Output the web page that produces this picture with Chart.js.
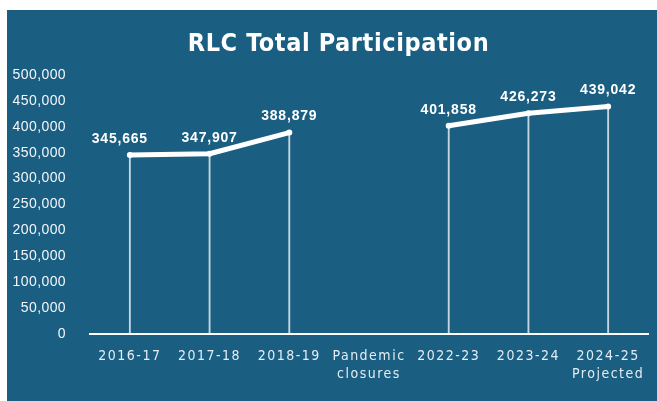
<!DOCTYPE html>
<html lang="en">
<head>
    <meta charset="UTF-8">
    <title>RLC Total Participation</title>
    <script src="https://cdn.jsdelivr.net/npm/chart.js"></script>
    <style>
        body {
            margin: 0; padding: 0;
            background: #ffffff;
            width: 657px; height: 401px;
            overflow: hidden;
        }
        .panel {
            position: absolute;
            left: 7px; top: 10px;
            width: 650px; height: 391px;
            background: #1a5e82;
        }
    </style>
</head>
<body>
<div class="panel"><canvas id="chart-rlc"></canvas></div>

<script>
    const years = ['2016-17', '2017-18', '2018-19', ['Pandemic', 'closures'], '2022-23', '2023-24', ['2024-25', 'Projected']];
    const participation = [345665, 347907, 388879, null, 401858, 426273, 439042];
    const yTicks = [0, 50000, 100000, 150000, 200000, 250000, 300000, 350000, 400000, 450000, 500000];

    const white = '#ffffff';
    const condensed = "'DejaVu Sans Condensed', 'DejaVu Sans', sans-serif";
    const sans = "'Liberation Sans', Arial, sans-serif";

    // wrap a draw method so its text gets some letter spacing
    function spaced(ctx, obj, method, amount) {
        if (!obj || obj['_spaced_' + method]) return;
        const orig = obj[method].bind(obj);
        obj[method] = (...args) => {
            ctx.letterSpacing = amount;
            orig(...args);
            ctx.letterSpacing = '0px';
        };
        obj['_spaced_' + method] = true;
    }

    const spacing = {
        id: 'spacing',
        afterLayout(chart) {
            const ctx = chart.ctx;
            spaced(ctx, chart.scales.x, 'drawLabels', '1.5px');
            spaced(ctx, chart.scales.y, 'drawLabels', '0.4px');
            spaced(ctx, chart.titleBlock, 'draw', '0.6px');
            // nudge the title a little right of the canvas centre
            const t = chart.titleBlock;
            if (t) { t.left += 11; t.right += 11; }
        }
    };

    // value labels above each point
    const valueLabels = {
        id: 'valueLabels',
        afterDatasetsDraw(chart) {
            const ctx = chart.ctx;
            const meta = chart.getDatasetMeta(1);
            ctx.save();
            ctx.letterSpacing = '0.8px';
            ctx.font = 'bold 14px ' + sans;
            ctx.fillStyle = white;
            ctx.textAlign = 'center';
            ctx.textBaseline = 'bottom';
            participation.forEach((v, i) => {
                if (v === null) return;
                const pt = meta.data[i];
                // first label sits a bit left of its point
                const dx = i === 0 ? -10 : 0;
                ctx.fillText(v.toLocaleString('en-US'), pt.x + dx, pt.y - 9);
            });
            ctx.restore();
        }
    };

    new Chart(document.getElementById('chart-rlc'), {
        data: {
            labels: years,
            datasets: [{
                // thin drop lines from each point to the axis
                type: 'bar',
                data: participation,
                barThickness: 1.2,
                backgroundColor: 'rgba(255,255,255,0.75)',
                order: 2
            }, {
                type: 'line',
                data: participation,
                borderColor: white,
                borderWidth: 5,
                borderCapStyle: 'round',
                borderJoinStyle: 'round',
                pointRadius: 3,
                pointBackgroundColor: white,
                pointBorderWidth: 0,
                spanGaps: false,
                tension: 0,
                order: 1
            }]
        },
        options: {
            responsive: true,
            maintainAspectRatio: false,
            animation: false,
            layout: { padding: { left: 0, right: 9, top: 0, bottom: 0 } },
            plugins: {
                legend: { display: false },
                tooltip: { enabled: false },
                title: {
                    display: true,
                    text: 'RLC Total Participation',
                    color: white,
                    font: { family: condensed, size: 25, weight: 'bold', lineHeight: 1.2 },
                    padding: { top: 19, bottom: 16 }
                }
            },
            scales: {
                x: {
                    grid: { display: false },
                    border: { color: white, width: 2 },
                    ticks: {
                        color: '#e4edf3',
                        padding: 6,
                        maxRotation: 0,
                        autoSkip: false,
                        font: { family: condensed, size: 14, lineHeight: 1.25 }
                    },
                    afterFit(scale) { scale.height = 67; }
                },
                y: {
                    min: 0,
                    max: 500000,
                    grid: { display: false },
                    border: { display: false },
                    afterBuildTicks(scale) { scale.ticks = yTicks.map(v => ({ value: v })); },
                    ticks: {
                        color: '#f4f7fa',
                        padding: 16,
                        font: { family: sans, size: 14 },
                        callback: v => v.toLocaleString('en-US')
                    },
                    afterFit(scale) { scale.width = 83; }
                }
            }
        },
        plugins: [spacing, valueLabels]
    });
</script>
</body>
</html>
